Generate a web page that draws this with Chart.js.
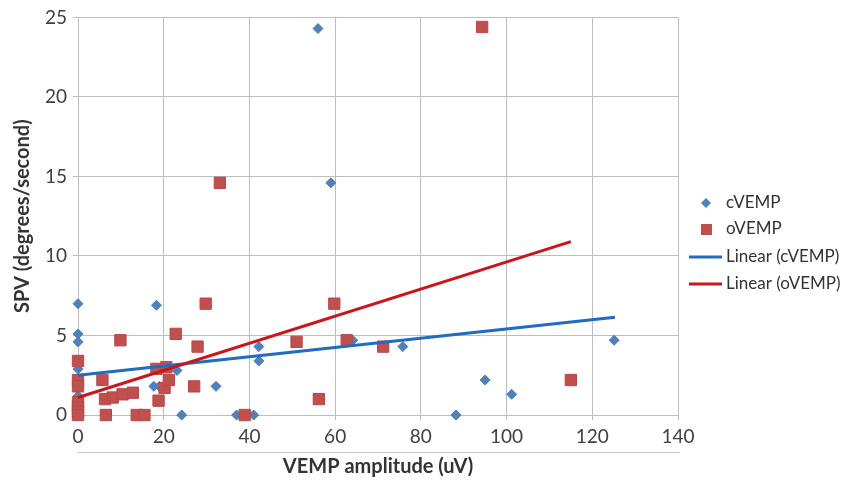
<!DOCTYPE html>
<html>
<head>
<meta charset="utf-8">
<script src="https://cdn.jsdelivr.net/npm/chart.js@4"></script>
<style>
  html, body { margin: 0; padding: 0; background: #fff; }
  #wrap { width: 845px; height: 483px; }
</style>
</head>
<body>
<div id="wrap"><canvas id="vempChart" width="845" height="483"></canvas></div>
<script>
// cVEMP points (amplitude uV, SPV deg/s)
const cvempX = [0, 0, 0, 0, 0, 0, 18.3, 17.7, 19, 23.1, 24.2, 32.2, 37, 41, 42.2, 42.2, 56, 59, 64.1, 75.8, 88.2, 95, 101.2, 125.1];
const cvempY = [7.0, 5.1, 4.6, 2.9, 1.2, 0, 6.9, 1.8, 1.8, 2.8, 0, 1.8, 0, 0, 4.3, 3.4, 24.3, 14.6, 4.7, 4.3, 0, 2.2, 1.3, 4.7];

// oVEMP points
const ovempX = [0, 0, 0, 0, 0, 0, 0, 5.7, 6.3, 6.5, 8.1, 9.9, 10.4, 12.8, 13.7, 15.5, 18.3, 18.8, 20.2, 20.6, 21.2, 22.8, 27.1, 27.9, 29.8, 33.1, 38.9, 51, 56.2, 59.8, 62.7, 71.2, 94.3, 115];
const ovempY = [3.4, 2.2, 1.8, 0.8, 0.5, 0.2, 0, 2.2, 1.0, 0, 1.1, 4.7, 1.3, 1.4, 0, 0, 2.9, 0.9, 1.7, 3.0, 2.2, 5.1, 1.8, 4.3, 7.0, 14.6, 0, 4.6, 1.0, 7.0, 4.7, 4.3, 24.4, 2.2];

// trend line ends
const cTrendX = [0, 125.3];
const cTrendY = [2.5, 6.15];
const oTrendX = [0, 115];
const oTrendY = [1.1, 10.9];

const xTicks = [0, 20, 40, 60, 80, 100, 120, 140];
const yTicks = [0, 5, 10, 15, 20, 25];

const seriesNames = ['cVEMP', 'oVEMP', 'Linear (cVEMP)', 'Linear (oVEMP)'];

const BLUE = '#4F81BD';
const RED = '#C0504D';
const BLUE_LINE = '#1F6CC0';
const RED_LINE = '#C8161B';
const FONT = 'Lato';

function toPoints(xs, ys) {
    return xs.map((x, i) => ({ x: x, y: ys[i] }));
}

// legend drawn by hand so it sits where the original one is
const sideLegend = {
    id: 'sideLegend',
    afterDraw(chart) {
        const ctx = chart.ctx;
        ctx.save();
        ctx.font = '17px ' + FONT;
        ctx.textBaseline = 'middle';
        const rows = [203, 229, 257, 284];
        // diamond
        ctx.fillStyle = BLUE;
        ctx.beginPath();
        ctx.moveTo(706, rows[0] - 5);
        ctx.lineTo(711, rows[0]);
        ctx.lineTo(706, rows[0] + 5);
        ctx.lineTo(701, rows[0]);
        ctx.closePath();
        ctx.fill();
        // square
        ctx.fillStyle = RED;
        ctx.fillRect(701, rows[1] - 5, 11, 11);
        // lines
        ctx.lineWidth = 3;
        ctx.strokeStyle = BLUE_LINE;
        ctx.beginPath(); ctx.moveTo(689, rows[2]); ctx.lineTo(722, rows[2]); ctx.stroke();
        ctx.strokeStyle = RED_LINE;
        ctx.beginPath(); ctx.moveTo(689, rows[3]); ctx.lineTo(722, rows[3]); ctx.stroke();
        ctx.fillStyle = '#333';
        seriesNames.forEach((name, i) => ctx.fillText(name, 726, rows[i]));
        // thin rule under the x tick labels
        ctx.strokeStyle = '#c8c8c8';
        ctx.lineWidth = 1;
        ctx.beginPath(); ctx.moveTo(78, 452.5); ctx.lineTo(680, 452.5); ctx.stroke();
        ctx.restore();
    }
};

const vempConfig = {
    type: 'scatter',
    data: {
        datasets: [
            {
                label: seriesNames[3],
                type: 'line',
                data: toPoints(oTrendX, oTrendY),
                borderColor: RED_LINE,
                borderWidth: 3,
                pointRadius: 0,
                fill: false,
                clip: false,
                order: 0
            },
            {
                label: seriesNames[2],
                type: 'line',
                data: toPoints(cTrendX, cTrendY),
                borderColor: BLUE_LINE,
                borderWidth: 3,
                pointRadius: 0,
                fill: false,
                clip: false,
                order: 1
            },
            {
                label: seriesNames[1],
                data: toPoints(ovempX, ovempY),
                pointStyle: 'rect',
                pointRadius: 8,
                backgroundColor: RED,
                borderColor: '#B9474A',
                borderWidth: 1,
                clip: false,
                order: 2
            },
            {
                label: seriesNames[0],
                data: toPoints(cvempX, cvempY),
                pointStyle: 'rectRot',
                pointRadius: 5,
                backgroundColor: BLUE,
                borderColor: '#4A7EBB',
                borderWidth: 1,
                clip: false,
                order: 3
            }
        ]
    },
    options: {
        responsive: false,
        animation: false,
        layout: { padding: { top: 15, right: 167, bottom: 0, left: 0 } },
        plugins: {
            legend: { display: false },
            tooltip: { enabled: false }
        },
        scales: {
            x: {
                type: 'linear',
                min: 0,
                max: 140,
                afterBuildTicks: (s) => { s.ticks = xTicks.map(v => ({ value: v })); },
                afterFit: (s) => { s.height = 68; },
                grid: { color: '#bdbdbd', tickLength: 5 },
                border: { color: '#bdbdbd' },
                ticks: { font: { family: FONT, size: 19 }, color: '#404040', padding: 5 },
                title: {
                    display: true,
                    text: 'VEMP amplitude (uV)',
                    font: { family: FONT, size: 20, weight: 'bold' },
                    color: '#333',
                    padding: { top: 0, bottom: 4 }
                }
            },
            y: {
                min: 0,
                max: 25,
                afterBuildTicks: (s) => { s.ticks = yTicks.map(v => ({ value: v })); },
                afterFit: (s) => { s.width = 78; },
                grid: { color: '#bdbdbd', tickLength: 5 },
                border: { color: '#bdbdbd' },
                ticks: { font: { family: FONT, size: 19 }, color: '#404040', padding: 6 },
                title: {
                    display: true,
                    text: 'SPV (degrees/second)',
                    font: { family: FONT, size: 20, weight: 'bold' },
                    color: '#333',
                    padding: { top: 11, bottom: 0 }
                }
            }
        }
    },
    plugins: [sideLegend]
};

window.onload = function() {
    const ctx = document.getElementById('vempChart').getContext('2d');
    new Chart(ctx, vempConfig);
};
</script>
</body>
</html>
